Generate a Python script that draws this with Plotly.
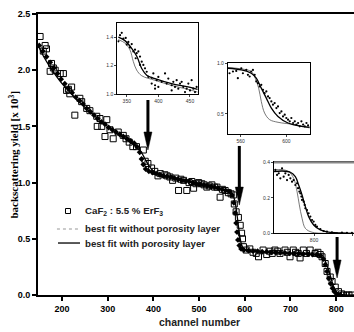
import plotly.graph_objects as go

# ---------------- main plot data ----------------
sq_ch = [152, 159, 163, 166, 174, 177, 181, 185, 196, 203, 210, 214, 217, 221, 228, 239, 243,
         254, 261, 276, 277, 283, 287, 294, 298, 305, 312, 323, 334, 340, 347, 355, 363, 378,
         382, 388, 396, 403, 410, 415, 425, 430, 436, 442, 449, 455, 460, 466, 473, 478, 484,
         488, 493, 499, 506, 511, 517, 522, 528, 534, 539, 546, 551, 557, 564, 570, 575, 577,
         581, 586, 590, 593, 595, 597, 603, 611, 618, 625, 630, 640, 648, 655, 660, 666, 672,
         677, 688, 693, 699, 706, 711, 717, 721, 728, 735, 743, 754, 760, 765, 769, 776, 780,
         787, 791, 798, 805, 812, 816, 823, 828, 834]
sq_val = [2.30, 2.17, 2.22, 2.19, 1.99, 2.06, 2.02, 2.00, 1.97, 1.97, 1.82, 1.83, 1.79, 1.85,
          1.60, 1.75, 1.72, 1.66, 1.64, 1.59, 1.50, 1.57, 1.50, 1.41, 1.56, 1.47, 1.39, 1.45,
          1.42, 1.39, 1.36, 1.32, 1.32, 1.29, 1.19, 1.17, 1.13, 1.10, 1.06, 1.08, 1.07, 1.06,
          1.05, 1.02, 1.04, 0.93, 1.03, 1.02, 0.93, 1.00, 1.01, 0.95, 0.99, 1.00, 0.99, 0.98,
          0.96, 0.97, 0.98, 0.96, 0.96, 0.87, 0.94, 0.93, 0.91, 0.90, 0.89, 0.81, 0.74, 0.69,
          0.62, 0.55, 0.50, 0.43, 0.40, 0.41, 0.38, 0.37, 0.34, 0.40, 0.36, 0.39, 0.37, 0.40,
          0.39, 0.37, 0.40, 0.38, 0.34, 0.40, 0.38, 0.37, 0.33, 0.40, 0.37, 0.40, 0.37, 0.38,
          0.36, 0.34, 0.28, 0.21, 0.16, 0.12, 0.07, 0.03, 0.01, 0.00, 0.00, 0.00, 0.00]

# best fit without porosity layer (main plot, drawn as dots)
nop_ch = [150, 158, 166, 174, 182, 190, 198, 206, 214, 222, 230, 238, 246, 254, 262, 270, 278,
          286, 294, 302, 310, 318, 326, 334, 342, 350, 358, 364, 370, 374, 378, 383, 390, 398,
          406, 414, 422, 430, 438, 446, 454, 462, 470, 478, 486, 494, 502, 510, 518, 526, 534,
          542, 550, 558, 566, 572, 576, 579, 581, 583, 585, 588, 592, 598, 608, 618, 628, 638,
          648, 658, 668, 678, 688, 698, 708, 718, 728, 738, 748, 758, 766, 772, 776, 780, 784,
          788, 792, 796, 801, 807]
nop_val = [2.22, 2.17, 2.12, 2.07, 2.02, 1.97, 1.92, 1.88, 1.84, 1.80, 1.76, 1.73, 1.70, 1.66,
           1.63, 1.60, 1.57, 1.54, 1.52, 1.49, 1.47, 1.45, 1.43, 1.41, 1.39, 1.37, 1.35, 1.32,
           1.27, 1.21, 1.16, 1.12, 1.10, 1.09, 1.08, 1.07, 1.06, 1.055, 1.05, 1.04, 1.03, 1.02,
           1.015, 1.01, 1.00, 0.99, 0.985, 0.98, 0.97, 0.965, 0.96, 0.95, 0.94, 0.93, 0.92, 0.89,
           0.82, 0.73, 0.64, 0.56, 0.49, 0.44, 0.41, 0.40, 0.395, 0.39, 0.39, 0.385, 0.385, 0.38,
           0.38, 0.375, 0.375, 0.37, 0.37, 0.37, 0.365, 0.365, 0.36, 0.36, 0.35, 0.32, 0.27,
           0.21, 0.15, 0.10, 0.06, 0.03, 0.01, 0.00]

# best fit with porosity layer (main plot, solid line)
fit_ch = [150, 160, 175, 200, 225, 250, 275, 300, 325, 350, 365, 375, 383, 390, 398, 410, 430,
          460, 500, 540, 565, 575, 580, 584, 588, 592, 597, 605, 650, 700, 750, 765, 775, 782,
          788, 794, 800, 808, 820, 839]
fit_val = [2.20, 2.12, 2.02, 1.88, 1.77, 1.67, 1.58, 1.50, 1.43, 1.36, 1.31, 1.26, 1.20, 1.15,
           1.11, 1.08, 1.06, 1.03, 0.99, 0.95, 0.92, 0.88, 0.80, 0.68, 0.55, 0.46, 0.41, 0.39,
           0.38, 0.37, 0.36, 0.345, 0.31, 0.24, 0.16, 0.08, 0.03, 0.01, 0.00, 0.00]

x_ticks = [200, 300, 400, 500, 600, 700, 800]
y_ticks = [0.0, 0.5, 1.0, 1.5, 2.0, 2.5]

# ---------------- inset 1 ----------------
in1_dot_ch = [339.3, 336.7, 342.0, 344.6, 348.3, 352.5, 349.9, 355.1, 357.8, 360.4, 363.0, 365.7,
              364.1, 368.3, 370.9, 373.6, 376.2, 378.8, 370.9, 381.5, 384.1, 389.4, 392.0, 394.7,
              397.3, 399.9, 405.2, 410.5, 413.1, 415.7, 421.0, 423.6, 426.3, 428.9, 431.5, 434.2,
              436.8, 439.4, 442.1, 444.7, 447.4, 450.0, 452.6, 455.3, 457.9, 460.5, 394.7, 421.0,
              389.4, 399.9]
in1_dot_val = [1.414, 1.371, 1.431, 1.390, 1.395, 1.367, 1.348, 1.328, 1.352, 1.300, 1.312, 1.288,
               1.252, 1.300, 1.264, 1.228, 1.205, 1.181, 1.205, 1.157, 1.121, 1.114, 1.145, 1.062,
               1.098, 1.121, 1.086, 1.145, 1.074, 1.109, 1.062, 1.086, 1.050, 1.098, 1.038, 1.074,
               1.086, 1.050, 1.014, 1.038, 1.074, 1.026, 1.098, 1.038, 1.014, 1.050, 1.038, 1.026,
               1.074, 1.050]
in1_fit_ch = [336.6, 347.0, 358.0, 366.0, 373.6, 381.5, 394.6, 420.9, 447.0, 462.0]
in1_fit_val = [1.400, 1.376, 1.320, 1.264, 1.180, 1.133, 1.109, 1.074, 1.050, 1.033]
in1_nop_ch = [336.6, 347.0, 355.0, 360.3, 365.6, 373.6, 394.6, 420.9, 447.0, 462.0]
in1_nop_val = [1.383, 1.359, 1.311, 1.229, 1.169, 1.129, 1.097, 1.061, 1.033, 1.014]

# ---------------- inset 2 ----------------
in2_dot_ch = [550.3, 553.3, 556.2, 557.6, 560.6, 562.0, 565.0, 566.4, 567.9, 569.3, 570.8, 572.3,
              573.7, 575.2, 576.7, 578.1, 579.6, 581.0, 582.5, 584.0, 585.4, 586.9, 588.3, 589.8,
              591.3, 592.7, 594.2, 595.7, 597.1, 598.6, 600.0, 601.5, 603.0, 604.4, 605.9, 607.4,
              608.8, 610.3, 611.7, 613.2, 614.7, 616.1, 617.6, 619.0]
in2_dot_val = [0.901, 0.918, 0.924, 0.852, 0.950, 0.901, 0.934, 0.885, 0.869, 0.918, 0.934, 0.885,
               0.820, 0.803, 0.771, 0.787, 0.738, 0.705, 0.722, 0.673, 0.656, 0.623, 0.591, 0.607,
               0.558, 0.574, 0.509, 0.525, 0.476, 0.493, 0.460, 0.444, 0.427, 0.460, 0.411, 0.427,
               0.395, 0.411, 0.378, 0.427, 0.395, 0.378, 0.411, 0.388]
in2_fit_ch = [548.9, 560.6, 569.3, 573.7, 578.1, 582.5, 586.9, 592.7, 601.5, 613.2, 620.5]
in2_fit_val = [0.950, 0.934, 0.901, 0.852, 0.754, 0.656, 0.558, 0.476, 0.411, 0.378, 0.369]
in2_nop_ch = [548.9, 560.6, 569.3, 572.8, 575.8, 578.1, 581.0, 585.4, 592.7, 607.4, 620.5]
in2_nop_val = [0.957, 0.944, 0.918, 0.852, 0.754, 0.623, 0.509, 0.444, 0.418, 0.395, 0.362]

# ---------------- inset 3 ----------------
in3_dot_ch = [749.7, 751.9, 754.1, 756.2, 758.4, 760.5, 762.7, 764.9, 767.0, 769.2, 771.4, 773.5,
              775.7, 777.9, 779.2, 780.9, 782.2, 783.5, 784.4, 786.5, 787.8, 788.7, 790.9, 793.0,
              795.2, 797.4, 799.5, 801.7, 803.8, 808.2, 812.5, 816.8, 823.3, 829.8, 836.3, 842.8,
              849.3]
in3_dot_val = [0.357, 0.329, 0.338, 0.310, 0.366, 0.319, 0.338, 0.300, 0.329, 0.310, 0.291, 0.300,
               0.272, 0.282, 0.254, 0.235, 0.225, 0.207, 0.188, 0.178, 0.160, 0.141, 0.131, 0.113,
               0.094, 0.075, 0.066, 0.047, 0.038, 0.024, 0.013, 0.009, 0.006, 0.000, 0.004, 0.002,
               0.002]
in3_fit_ch = [747.6, 758.4, 769.2, 775.7, 780.0, 784.4, 788.7, 793.0, 799.5, 808.2, 819.0, 836.3, 851.9]
in3_fit_val = [0.347, 0.351, 0.344, 0.319, 0.272, 0.216, 0.150, 0.094, 0.047, 0.019, 0.006, 0.002, 0.0]
in3_nop_ch = [747.6, 758.4, 767.0, 773.5, 777.9, 780.9, 784.4, 788.7, 797.4, 819.0]
in3_nop_val = [0.357, 0.359, 0.347, 0.310, 0.235, 0.160, 0.085, 0.028, 0.006, 0.0]

# arrows (channel, start value, tip value)
arrow_ch = [388, 588, 802]
arrow_top = [1.735, 1.326, 0.516]
arrow_tip = [1.29, 0.80, 0.151]

SANS = "Liberation Sans, Arial, sans-serif"
SERIF = "Liberation Serif, Times New Roman, serif"

fig = go.Figure()

# main plot traces
fig.add_trace(go.Scatter(x=sq_ch, y=sq_val, mode="markers", xaxis="x", yaxis="y",
                         marker=dict(symbol="square-open", size=6, color="black",
                                     line=dict(width=1, color="black"))))
fig.add_trace(go.Scatter(x=nop_ch, y=nop_val, mode="markers", xaxis="x", yaxis="y",
                         marker=dict(symbol="diamond", size=4.5, color="black")))
fig.add_trace(go.Scatter(x=fit_ch, y=fit_val, mode="lines", xaxis="x", yaxis="y",
                         line=dict(color="black", width=1.3, shape="spline", smoothing=0.6)))

# insets
insets = [
    (in1_dot_ch, in1_dot_val, in1_fit_ch, in1_fit_val, in1_nop_ch, in1_nop_val, "x2", "y2"),
    (in2_dot_ch, in2_dot_val, in2_fit_ch, in2_fit_val, in2_nop_ch, in2_nop_val, "x3", "y3"),
    (in3_dot_ch, in3_dot_val, in3_fit_ch, in3_fit_val, in3_nop_ch, in3_nop_val, "x4", "y4"),
]
for dc, dv, fc, fv, nc, nv, xa, ya in insets:
    fig.add_trace(go.Scatter(x=nc, y=nv, mode="lines", xaxis=xa, yaxis=ya,
                             line=dict(color="#555555", width=0.8, shape="spline")))
    fig.add_trace(go.Scatter(x=fc, y=fv, mode="lines", xaxis=xa, yaxis=ya,
                             line=dict(color="black", width=1.3, shape="spline")))
    fig.add_trace(go.Scatter(x=dc, y=dv, mode="markers", xaxis=xa, yaxis=ya,
                             marker=dict(symbol="circle", size=2.2, color="black")))

tickfont = dict(family=SANS, size=9, color="black", weight="bold")
small = dict(family=SANS, size=5, color="#333333")

def inset_axes(dom_x, dom_y, rx, ry, tx, ty, anchor_x, anchor_y):
    xa = dict(domain=dom_x, range=rx, anchor=anchor_y, showline=True, linecolor="black",
              linewidth=1, mirror=True, ticks="outside", ticklen=2, tickwidth=0.6,
              tickvals=tx, tickfont=small, showgrid=False, zeroline=False)
    ya = dict(domain=dom_y, range=ry, anchor=anchor_x, showline=True, linecolor="black",
              linewidth=1, mirror=True, ticks="outside", ticklen=2, tickwidth=0.6,
              tickvals=ty, tickformat=".1f", tickfont=small, showgrid=False, zeroline=False)
    return xa, ya

x2, y2 = inset_axes([0.251, 0.507], [0.715, 0.968], [335, 463], [1.0, 1.5],
                    [350, 400, 450], [1.0, 1.2, 1.4], "x2", "y2")
x3, y3 = inset_axes([0.601, 0.860], [0.572, 0.825], [548.9, 620.5], [0.3, 1.0],
                    [560, 600], [0.5, 1.0], "x3", "y3")
x4, y4 = inset_axes([0.747, 1.0], [0.2196, 0.4722], [748, 852], [0.0, 0.4],
                    [800, 850], [0.0, 0.2, 0.4], "x4", "y4")

fig.update_layout(
    width=354, height=332,
    margin=dict(l=38, r=0, t=14, b=37),
    paper_bgcolor="white", plot_bgcolor="white",
    showlegend=False,
    xaxis=dict(domain=[0, 1], range=[147.4, 839], showline=True, linecolor="black", linewidth=2,
               mirror=True, ticks="outside", ticklen=4, tickwidth=1.5, tickcolor="black",
               tickvals=x_ticks, tickfont=tickfont, showgrid=False, zeroline=False),
    yaxis=dict(domain=[0, 1], range=[0, 2.5], showline=True, linecolor="black", linewidth=2,
               ticks="outside", ticklen=4, tickwidth=1.5, tickcolor="black",
               tickvals=y_ticks, tickformat=".1f", tickfont=tickfont,
               showgrid=False, zeroline=False),
    xaxis2=x2, yaxis2=y2, xaxis3=x3, yaxis3=y3, xaxis4=x4, yaxis4=y4,
)

shapes = []
# inset 3 top border: thick gray
shapes.append(dict(type="line", xref="x4 domain", yref="y4 domain", x0=0, x1=1, y0=1, y1=1,
                   line=dict(color="#888888", width=2.2)))
# arrows
hx = 8.8   # half head width in channels
hy = 0.16  # head length in yield units
for c, t0, t1 in zip(arrow_ch, arrow_top, arrow_tip):
    shapes.append(dict(type="line", xref="x", yref="y", x0=c, x1=c, y0=t0, y1=t1 + hy * 0.5,
                       line=dict(color="black", width=3)))
    shapes.append(dict(type="path", xref="x", yref="y",
                       path=f"M {c - hx},{t1 + hy} L {c + hx},{t1 + hy} L {c},{t1} Z",
                       fillcolor="black", line=dict(color="black", width=0.5)))
# legend symbols
shapes.append(dict(type="rect", xref="paper", yref="paper", x0=0.087, x1=0.1028, y0=0.290,
                   y1=0.3078, line=dict(color="black", width=1), fillcolor="white"))
shapes.append(dict(type="line", xref="paper", yref="paper", x0=0.060, x1=0.1329, y0=0.2349,
                   y1=0.2349, line=dict(color="#bbbbbb", width=1.5, dash="dot")))
shapes.append(dict(type="line", xref="paper", yref="paper", x0=0.0633, x1=0.1329, y0=0.185,
                   y1=0.185, line=dict(color="black", width=1.3)))
fig.update_layout(shapes=shapes)

legfont = dict(family=SANS, size=9.7, color="#222222", weight="bold")
ann = [
    dict(text="CaF<sub>2</sub> : 5.5 % ErF<sub>3</sub>", x=0.1424, y=0.299),
    dict(text="best fit without porosity layer", x=0.1424, y=0.2349),
    dict(text="best fit with porosity layer", x=0.1424, y=0.185),
]
annotations = []
for a in ann:
    annotations.append(dict(text=a["text"], x=a["x"], y=a["y"], xref="paper", yref="paper",
                            xanchor="left", yanchor="middle", showarrow=False, font=legfont))
annotations.append(dict(text="backscattering yield [x 10<sup>3</sup>]", x=-0.079, y=0.5,
                        xref="paper", yref="paper", textangle=-90, showarrow=False,
                        xanchor="center", yanchor="middle",
                        font=dict(family=SERIF, size=11, color="black", weight="bold")))
annotations.append(dict(text="channel number", x=0.51, y=-0.096, xref="paper", yref="paper",
                        showarrow=False, xanchor="center", yanchor="middle",
                        font=dict(family=SANS, size=10.5, color="#222222", weight="bold")))
fig.update_layout(annotations=annotations)

fig.write_html("out.html", config={"displayModeBar": False},
               post_script="document.body.style.margin='0px';")
